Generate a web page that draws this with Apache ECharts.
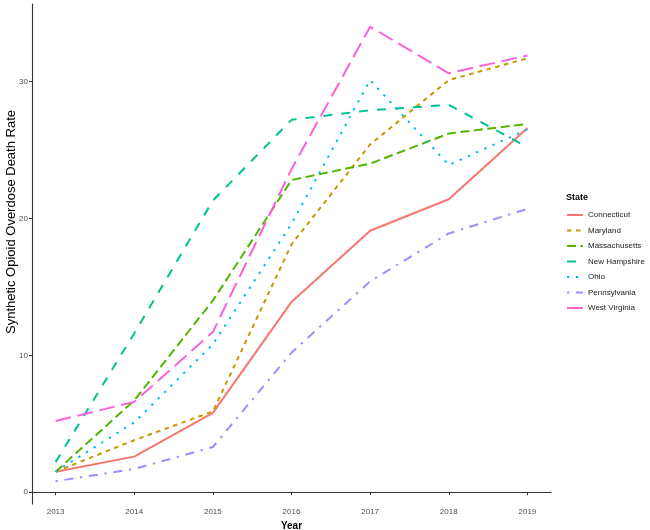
<!DOCTYPE html>
<html>
<head>
<meta charset="utf-8">
<script src="https://cdn.jsdelivr.net/npm/echarts@6/dist/echarts.min.js"></script>
<style>
  html, body { margin: 0; padding: 0; background: #fff; }
  #chart { width: 650px; height: 530px; }
</style>
</head>
<body>
<div id="chart"></div>
<script>
// years on the x axis
var years = [2013, 2014, 2015, 2016, 2017, 2018, 2019];
var yTicks = [0, 10, 20, 30];

// death rate per state
var connecticut   = [1.5, 2.6, 5.8, 13.9, 19.1, 21.4, 26.6];
var maryland      = [1.5, 3.8, 5.9, 18.1, 25.4, 30.1, 31.7];
var massachusetts = [1.5, 6.7, 14.0, 22.8, 24.0, 26.2, 26.9];
var newHampshire  = [2.2, 11.6, 21.3, 27.2, 27.9, 28.3, 25.2];
var ohio          = [1.5, 5.1, 10.8, 19.6, 30.1, 23.9, 26.5];
var pennsylvania  = [0.8, 1.7, 3.3, 10.2, 15.4, 18.9, 20.7];
var westVirginia  = [5.2, 6.6, 11.7, 23.6, 34.0, 30.6, 31.9];

var states = ['Connecticut', 'Maryland', 'Massachusetts', 'New Hampshire', 'Ohio', 'Pennsylvania', 'West Virginia'];
var values = [connecticut, maryland, massachusetts, newHampshire, ohio, pennsylvania, westVirginia];

// ggplot hue colours and linetypes (solid, 22, 42, 44, 13, 1343, 73)
var colors = ['#F8766D', '#C49A00', '#53B400', '#00C094', '#00B6EB', '#A58AFF', '#FB61D7'];
var u = 2.25;
var dashes = ['solid', [2*u, 2*u], [4*u, 2*u], [4*u, 4*u], [1*u, 3*u], [1*u, 3*u, 4*u, 3*u], [7*u, 3*u]];

var series = [];
for (var i = 0; i < states.length; i++) {
  var pts = [];
  for (var j = 0; j < years.length; j++) {
    pts.push([years[j], values[i][j]]);
  }
  series.push({
    name: states[i],
    type: 'line',
    symbol: 'none',
    data: pts,
    color: colors[i],
    lineStyle: { color: colors[i], width: 2, type: dashes[i] }
  });
}

var chart = echarts.init(document.getElementById('chart'));
chart.setOption({
  animation: false,
  textStyle: { fontFamily: 'Liberation Sans, Arial, sans-serif' },
  title: {
    text: 'State',
    left: 566,
    top: 193,
    padding: 0,
    textStyle: { fontSize: 9, fontWeight: 'bold', color: '#000' }
  },
  legend: {
    orient: 'vertical',
    left: 566,
    top: 211,
    padding: 0,
    itemWidth: 16,
    itemHeight: 10,
    itemGap: 7.5,
    itemStyle: { opacity: 0 },
    textStyle: { fontSize: 8, color: '#1a1a1a' },
    data: states
  },
  // y axis title placed by hand so it sits where the reference has it
  graphic: [{
    type: 'text',
    x: 11,
    y: 222,
    rotation: Math.PI / 2,
    style: {
      text: 'Synthetic Opioid Overdose Death Rate',
      fontSize: 13,
      fontFamily: 'Liberation Sans, Arial, sans-serif',
      fill: '#000',
      align: 'center',
      verticalAlign: 'middle'
    }
  }],
  grid: { left: 32, right: 99, top: 4, bottom: 26, outerBoundsMode: 'none' },
  xAxis: {
    type: 'value',
    min: 2012.7,
    max: 2019.3,
    name: 'Year',
    nameLocation: 'middle',
    nameGap: 11,
    nameTextStyle: { fontSize: 10, fontWeight: 'bold', color: '#000' },
    axisLine: { lineStyle: { color: '#333', width: 1.1 } },
    axisTick: { customValues: years, length: 3, lineStyle: { color: '#333' } },
    axisLabel: { customValues: years, fontSize: 8, color: '#4d4d4d', margin: 4, formatter: function (v) { return String(v); } },
    splitLine: { show: false }
  },
  yAxis: {
    type: 'value',
    min: -0.86,
    max: 35.66,
    axisLine: { show: true, lineStyle: { color: '#333', width: 1.1 } },
    axisTick: { show: true, customValues: yTicks, length: 3, lineStyle: { color: '#333' } },
    axisLabel: { customValues: yTicks, fontSize: 8, color: '#4d4d4d', margin: 4 },
    splitLine: { show: false }
  },
  series: series
});
</script>
</body>
</html>
